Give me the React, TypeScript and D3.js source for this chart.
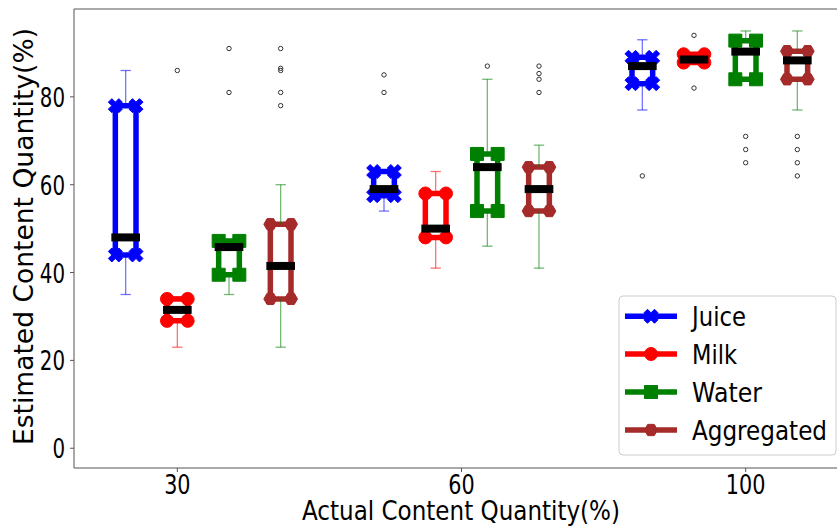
import React from "react";
import * as d3 from "d3";

// Groups on the x axis and where their tick labels sit (in box-position units)
const groupLabels = ["30", "60", "100"];
const groupTickPos = [2, 7.5, 13];
const yTicks = [0, 20, 40, 60, 80];

const seriesNames = ["Juice", "Milk", "Water", "Aggregated"];
const seriesColors = ["#0000ff", "#ff0000", "#008000", "#a52a2a"];
const whiskerColors = ["#0000ff", "#ff0000", "#008000", "#008000"];
const seriesMarkers = ["X", "o", "s", "H"];

// Per group (30, 60, 100): [whisker low, Q1, median, Q3, whisker high]
const juiceStats = [
  [35, 44, 48, 78, 86],
  [54, 57.5, 59, 63, 63],
  [77, 83, 87, 89, 93],
];
const milkStats = [
  [23, 29, 31.5, 34, 34.5],
  [41, 48, 50, 58, 63],
  [87.8, 87.8, 88.5, 89.7, 89.7],
];
const waterStats = [
  [35, 39.5, 45.8, 47.2, 47.2],
  [46, 54, 64, 67, 84],
  [84, 84, 90.3, 92.8, 95],
];
const aggregatedStats = [
  [23, 34, 41.5, 51, 60],
  [41, 54, 59, 64, 69],
  [77, 84, 88.3, 90.4, 95],
];

// Outliers per group
const juiceFliers = [[], [81, 85], [62]];
const milkFliers = [[86], [], [82, 94]];
const waterFliers = [[81, 91], [87], [65, 68, 71]];
const aggregatedFliers = [[78, 81, 86, 86.5, 91], [81, 84, 85.3, 87], [62, 65, 68, 71]];

const allStats = [juiceStats, milkStats, waterStats, aggregatedStats];
const allFliers = [juiceFliers, milkFliers, waterFliers, aggregatedFliers];

const FONT = "DejaVu Sans";
const FS = 27;

function markerPath(shape: string, size: number): string {
  const r = size / 2;
  if (shape === "o") {
    return `M${-r},0A${r},${r} 0 1,0 ${r},0A${r},${r} 0 1,0 ${-r},0Z`;
  }
  if (shape === "s") {
    return `M${-r},${-r}H${r}V${r}H${-r}Z`;
  }
  if (shape === "H") {
    const pts = d3.range(6).map((i) => {
      const a = (i * Math.PI) / 3;
      return [r * Math.cos(a), r * Math.sin(a)];
    });
    return "M" + pts.map((p) => p.join(",")).join("L") + "Z";
  }
  // filled "X": a plus rotated by 45 degrees
  const plus = [
    [-1, -3], [-1, -1], [-3, -1], [-3, 1], [-1, 1], [-1, 3],
    [1, 3], [1, 1], [3, 1], [3, -1], [1, -1], [1, -3],
  ];
  const c = Math.SQRT1_2;
  const rot = plus.map(([px, py]) => [(px - py) * c, (px + py) * c]);
  const ext = d3.max(rot, (p) => Math.max(Math.abs(p[0]), Math.abs(p[1]))) as number;
  const k = r / ext;
  return "M" + rot.map(([px, py]) => `${px * k},${py * k}`).join("L") + "Z";
}

export default function App() {
  const W = 837;
  const H = 528;
  const left = 74;
  const top = 9;
  const bottom = 468;
  const x = d3.scaleLinear().domain([0, 15]).range([left, 849]);
  const y = d3.scaleLinear().domain([-4.5, 100]).range([bottom, top]);
  const halfBox = 0.2;
  const halfCap = 0.1;
  const markerSize = [14, 13, 13, 13];

  const boxes: React.ReactNode[] = [];
  const whiskers: React.ReactNode[] = [];
  const medians: React.ReactNode[] = [];
  const fliers: React.ReactNode[] = [];

  allStats.forEach((stats, si) => {
    const color = seriesColors[si];
    stats.forEach((s, gi) => {
      const [lo, q1, med, q3, hi] = s;
      const pos = gi * 5 + si + 1;
      const xc = x(pos);
      const x0 = x(pos - halfBox);
      const x1 = x(pos + halfBox);
      const corners: [number, number][] = [
        [x0, y(q1)], [x1, y(q1)], [x1, y(q3)], [x0, y(q3)],
      ];
      const line = d3.line()(corners.concat([corners[0]]) as [number, number][]);
      boxes.push(
        <g key={`b${si}-${gi}`}>
          <path d={line as string} fill="none" stroke={color} strokeWidth={5.5} strokeLinejoin="round" />
          {corners.map((c, ci) => (
            <path
              key={ci}
              d={markerPath(seriesMarkers[si], markerSize[si])}
              transform={`translate(${c[0]},${c[1]})`}
              fill={color}
              stroke={color}
              strokeWidth={1}
            />
          ))}
        </g>
      );
      const wc = whiskerColors[si];
      whiskers.push(
        <g key={`w${si}-${gi}`} stroke={wc} strokeOpacity={0.55} strokeWidth={1.3} fill="none">
          <line x1={xc} x2={xc} y1={y(q1)} y2={y(lo)} />
          <line x1={xc} x2={xc} y1={y(q3)} y2={y(hi)} />
          <line x1={x(pos - halfCap)} x2={x(pos + halfCap)} y1={y(lo)} y2={y(lo)} />
          <line x1={x(pos - halfCap)} x2={x(pos + halfCap)} y1={y(hi)} y2={y(hi)} />
        </g>
      );
      medians.push(
        <line
          key={`m${si}-${gi}`}
          x1={x0}
          x2={x1}
          y1={y(med)}
          y2={y(med)}
          stroke="#000"
          strokeWidth={8}
          strokeLinecap="square"
        />
      );
      allFliers[si][gi].forEach((v, fi) => {
        fliers.push(
          <circle key={`f${si}-${gi}-${fi}`} cx={xc} cy={y(v)} r={2.2} fill="none" stroke="#333" strokeWidth={1} />
        );
      });
    });
  });

  const legendX = 619;
  const legendY = 296;
  const legendRowY = [316.3, 354, 392, 430];
  const legendTextW = [54, 45, 70, 135];

  return (
    <div style={{ position: "absolute", left: 0, top: 0, width: W, height: H, background: "#fff" }}>
      <svg width={W} height={H} style={{ display: "block" }} fontFamily={FONT}>
        <rect width={W} height={H} fill="#fff" />
        {boxes}
        {whiskers}
        {medians}
        {fliers}

        {/* spines */}
        <g stroke="#555" strokeWidth={1} fill="none">
          <line x1={left} x2={left} y1={top} y2={bottom} />
          <line x1={left} x2={849} y1={top} y2={top} />
          <line x1={left} x2={849} y1={bottom} y2={bottom} />
          <line x1={849} x2={849} y1={top} y2={bottom} />
        </g>

        {/* y axis */}
        {yTicks.map((t) => (
          <g key={`yt${t}`}>
            <line x1={left - 4} x2={left} y1={y(t)} y2={y(t)} stroke="#555" strokeWidth={1} />
            <text
              x={65}
              y={y(t) + 10}
              textAnchor="end"
              fontSize={FS}
              fill="#000"
              textLength={String(t).length * 12.6}
              lengthAdjust="spacingAndGlyphs"
            >
              {t}
            </text>
          </g>
        ))}
        {/* x axis */}
        {groupLabels.map((lab, i) => (
          <g key={`xt${lab}`}>
            <line x1={x(groupTickPos[i])} x2={x(groupTickPos[i])} y1={bottom} y2={bottom + 4} stroke="#555" strokeWidth={1} />
            <text
              x={x(groupTickPos[i])}
              y={494}
              textAnchor="middle"
              fontSize={FS}
              fill="#000"
              textLength={lab.length * 13.2}
              lengthAdjust="spacingAndGlyphs"
            >
              {lab}
            </text>
          </g>
        ))}
        <text
          x={461}
          y={520}
          textAnchor="middle"
          fontSize={FS}
          fill="#000"
          textLength={318}
          lengthAdjust="spacingAndGlyphs"
        >
          Actual Content Quantity(%)
        </text>
        <text
          transform={`translate(33,236.5) rotate(-90)`}
          textAnchor="middle"
          fontSize={FS}
          fill="#000"
          textLength={417}
          lengthAdjust="spacingAndGlyphs"
        >
          Estimated Content Quantity(%)
        </text>

        {/* legend */}
        <rect
          x={legendX}
          y={legendY}
          width={217}
          height={159}
          rx={4}
          fill="#fff"
          fillOpacity={0.8}
          stroke="#cccccc"
          strokeWidth={1}
        />
        {seriesNames.map((name, i) => (
          <g key={`lg${name}`}>
            <line x1={625} x2={677} y1={legendRowY[i]} y2={legendRowY[i]} stroke={seriesColors[i]} strokeWidth={5.5} />
            <path
              d={markerPath(seriesMarkers[i], markerSize[i])}
              transform={`translate(651,${legendRowY[i]})`}
              fill={seriesColors[i]}
              stroke={seriesColors[i]}
              strokeWidth={1}
            />
            <text
              x={692}
              y={legendRowY[i] + 10}
              fontSize={FS}
              fill="#000"
              textLength={legendTextW[i]}
              lengthAdjust="spacingAndGlyphs"
            >
              {name}
            </text>
          </g>
        ))}
      </svg>
    </div>
  );
}
